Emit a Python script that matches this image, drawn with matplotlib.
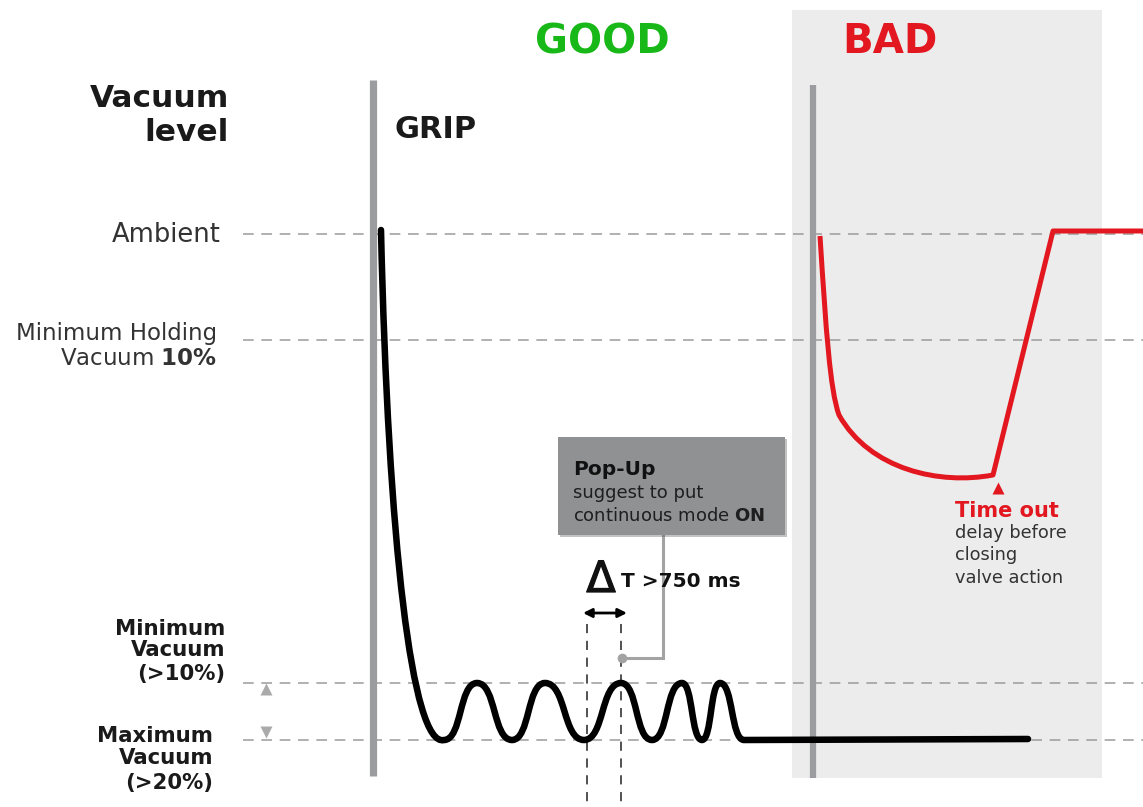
import matplotlib
matplotlib.use('Agg')
import matplotlib.pyplot as plt
import matplotlib.patheffects as pe
from matplotlib.path import Path
from matplotlib.patches import PathPatch, Rectangle

plt.rcParams['font.family'] = ['DejaVu Sans']
plt.rcParams['mathtext.fontset'] = 'dejavusans'

# canvas is in pixel units of the 1143x807 picture (y grows downwards)
W, H = 1143, 807

# reference levels (y) and where the dashed guides start
level_y = [234, 340, 683, 740]
guide_x0 = 243

# phase markers (x)
grip_x = 373
bad_x = 813
bad_zone = (792, 10, 1102, 778)

# GOOD curve: fast drop from ambient, then oscillation between min / max vacuum
grip_start = (381, 230)
drop_ctrl = [(388, 540), (412, 748)]
osc_x = [444, 477, 512, 545, 584, 621, 652, 682, 702, 720, 744]
osc_y = [740, 683, 740, 683, 740, 683, 740, 683, 740, 683, 740]
hold_end = (1028, 739)

# BAD curve: never reaches holding level -> time out -> back to ambient
red_verts = [(820, 236), (826, 330), (830, 390), (839, 415),
             (870, 470), (940, 485), (993, 475),
             (1053, 231), (1143, 231)]
red_codes = [Path.MOVETO, Path.CURVE4, Path.CURVE4, Path.CURVE4,
             Path.CURVE4, Path.CURVE4, Path.CURVE4,
             Path.LINETO, Path.LINETO]
timeout_mark = (998, 488)

# delta T window
dt_x = [587, 621]

GREY = '#9a9c9f'
DASH = '#9b9b9b'
RED = '#e2171f'
GREEN = '#17b817'
TXT = '#333333'
DARK = '#1a1a1a'

fig = plt.figure(figsize=(W / 100, H / 100), dpi=100)
ax = fig.add_axes([0, 0, 1, 1])
ax.set_xlim(0, W)
ax.set_ylim(H, 0)
ax.axis('off')

# BAD zone background
x0, y0, x1, y1 = bad_zone
ax.add_patch(Rectangle((x0, y0), x1 - x0, y1 - y0, color='#ececec', lw=0, zorder=0))

# dashed level guides
for y in level_y:
    ax.plot([guide_x0, W], [y, y], color=DASH, lw=1.1, ls=(0, (7, 5)), zorder=1)

# delta T window guides
for x in dt_x:
    ax.plot([x, x], [624, H], color='#222222', lw=1.1, ls=(0, (6, 5)), zorder=1)

# phase bars
ax.plot([grip_x, grip_x], [80, 776], color=GREY, lw=5.2, solid_capstyle='butt', zorder=2)
ax.plot([bad_x, bad_x], [85, 778], color=GREY, lw=4.5, solid_capstyle='butt', zorder=2)

# GOOD curve
k = 0.55
verts = [grip_start, drop_ctrl[0], drop_ctrl[1], (osc_x[0], osc_y[0])]
codes = [Path.MOVETO, Path.CURVE4, Path.CURVE4, Path.CURVE4]
for i in range(1, len(osc_x)):
    dx = osc_x[i] - osc_x[i - 1]
    verts += [(osc_x[i - 1] + k * dx, osc_y[i - 1]), (osc_x[i] - k * dx, osc_y[i]), (osc_x[i], osc_y[i])]
    codes += [Path.CURVE4] * 3
verts.append(hold_end)
codes.append(Path.LINETO)
ax.add_patch(PathPatch(Path(verts, codes), fill=False, ec='black', lw=4.7,
                       capstyle='round', joinstyle='round', zorder=4))

# BAD curve
ax.add_patch(PathPatch(Path(red_verts, red_codes), fill=False, ec=RED, lw=3.6,
                       capstyle='butt', joinstyle='round', zorder=4))
ax.plot(*timeout_mark, marker='^', ms=9, color=RED, mec='none', zorder=4)

# small range arrows
ax.plot(266, 689, marker='^', ms=9, color='#aaaaaa', mec='none')
ax.plot(266, 732, marker='v', ms=9, color='#aaaaaa', mec='none')

# headings
ax.text(602, 53, 'GOOD', color=GREEN, fontsize=29, fontweight='bold', ha='center', va='baseline')
ax.text(890, 53, 'BAD', color=RED, fontsize=29, fontweight='bold', ha='center', va='baseline')
ax.text(229, 107, 'Vacuum', color=DARK, fontsize=22.5, fontweight='bold', ha='right', va='baseline')
ax.text(229, 141, 'level', color=DARK, fontsize=22.5, fontweight='bold', ha='right', va='baseline')
ax.text(395, 138, 'GRIP', color=DARK, fontsize=22, fontweight='bold', ha='left', va='baseline')

# level labels
ax.text(221, 242, 'Ambient', color=TXT, fontsize=18.5, ha='right', va='baseline')
ax.text(217, 340, 'Minimum Holding', color=TXT, fontsize=16.5, ha='right', va='baseline')
ax.text(217, 365, r'Vacuum $\bf{10\%}$', color=TXT, fontsize=16.5, ha='right', va='baseline')
for txt, yb in zip(['Minimum', 'Vacuum', '(>10%)'], [635, 656, 680]):
    ax.text(225, yb, txt, color=DARK, fontsize=15.3, fontweight='bold', ha='right', va='baseline')
for txt, yb in zip(['Maximum', 'Vacuum', '(>20%)'], [742, 764, 789]):
    ax.text(213, yb, txt, color=DARK, fontsize=15.3, fontweight='bold', ha='right', va='baseline')

# pop-up box
box = Rectangle((558, 437), 227, 98, color='#8f9192', lw=0, zorder=5)
box.set_path_effects([pe.SimplePatchShadow(offset=(1.5, -1.5), shadow_rgbFace='#555555', alpha=0.35),
                      pe.Normal()])
ax.add_patch(box)
ax.text(573, 475, 'Pop-Up', color='#111111', fontsize=14.5, fontweight='bold', va='baseline', zorder=6)
ax.text(573, 498, 'suggest to put', color='#1e1e1e', fontsize=13, va='baseline', zorder=6)
ax.text(573, 521, r'continuous mode $\bf{ON}$', color='#1e1e1e', fontsize=13, va='baseline', zorder=6)

# connector from pop-up to the peak
ax.plot([663, 663, 622], [535, 658, 658], color='#a3a3a3', lw=2.2, zorder=3,
        solid_joinstyle='miter')
ax.plot(622, 658, marker='o', ms=7, color='#a3a3a3', mec='none', zorder=3)

# delta T annotation
ax.text(601, 592, 'Δ', color='#111111', fontsize=31, ha='center', va='baseline', zorder=6,
        path_effects=[pe.withStroke(linewidth=0.9, foreground='#111111')])
ax.text(621, 587, 'T >750 ms', color='#111111', fontsize=14.5, fontweight='bold', va='baseline', zorder=6)
ax.annotate('', xy=(583, 613), xytext=(627, 613),
            arrowprops=dict(arrowstyle='<|-|>', color='black', lw=2, mutation_scale=13,
                            shrinkA=0, shrinkB=0), zorder=6)

# time out note
ax.text(955, 517, 'Time out', color=RED, fontsize=15, fontweight='bold', va='baseline')
for txt, yb in zip(['delay before', 'closing', 'valve action'], [538, 560, 583]):
    ax.text(955, yb, txt, color=TXT, fontsize=12.8, va='baseline')

fig.savefig('out.png', dpi=100)
